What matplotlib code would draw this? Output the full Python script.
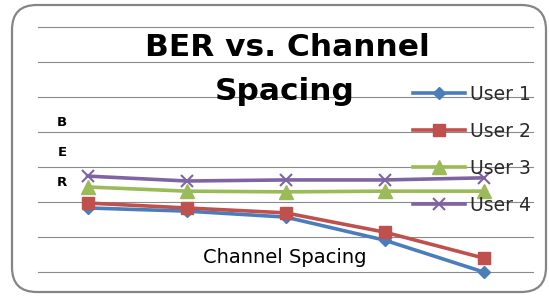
import matplotlib
matplotlib.use("Agg")
import matplotlib.pyplot as plt
from matplotlib.patches import FancyBboxPatch

categories = ["1", "2", "3", "4", "5"]
user1 = [1.83, 1.74, 1.57, 0.91, 0.0]
user2 = [1.97, 1.83, 1.69, 1.14, 0.40]
user3 = [2.43, 2.31, 2.29, 2.31, 2.31]
user4 = [2.74, 2.60, 2.63, 2.63, 2.69]
series_names = ["User 1", "User 2", "User 3", "User 4"]
yticks = [0, 1, 2, 3, 4, 5, 6, 7]

plt.rcParams['font.family'] = ['DejaVu Sans']

W, H = 549, 296
fig = plt.figure(figsize=(W/100, H/100), dpi=100)
fig.patch.set_facecolor("white")

# rounded border
border = FancyBboxPatch((12/W, 1-292/H), (546-12)/W, (292-5)/H,
                        boxstyle="round,pad=0,rounding_size=0.045",
                        transform=fig.transFigure, facecolor="none",
                        edgecolor="#858585", linewidth=1.6, mutation_aspect=W/H)
fig.patches.append(border)

ax = fig.add_axes([38/W, 1-272/H, (533-38)/W, (272-27)/H])
ax.set_facecolor("none")
x = list(range(len(categories)))
ax.set_xlim(-0.5, len(categories)-0.5)
ax.set_ylim(0, 7)
ax.set_yticks(yticks)
ax.yaxis.grid(True, color="#8a8a8a", linewidth=0.8)
for gl in ax.get_ygridlines():
    gl.set_clip_on(False)
ax.set_axisbelow(True)
ax.tick_params(left=False, bottom=False, labelleft=False, labelbottom=False)
for s in ax.spines.values():
    s.set_visible(False)

styles = [
    dict(color="#4A7EBB", marker="D", markersize=6.5),
    dict(color="#C0504D", marker="s", markersize=9),
    dict(color="#9BBB59", marker="^", markersize=10),
    dict(color="#8064A2", marker="x", markersize=9, markeredgewidth=1.5),
]
for data, name, st in zip([user1, user2, user3, user4], series_names, styles):
    ax.plot(x, data, linewidth=2.6, label=name, clip_on=False, **st)

leg = ax.legend(loc="upper left", bbox_to_anchor=(413/W, 1-85/H),
                bbox_transform=fig.transFigure, frameon=False, fontsize=13.5,
                handlelength=2.77, handletextpad=0.25, labelspacing=0.96,
                borderaxespad=0, borderpad=0)
for t in leg.get_texts():
    t.set_color("#2a2a2a")

fig.text(287/W, 1-56/H, "BER vs. Channel", ha="center", va="baseline",
         fontsize=22.5, fontweight="bold")
fig.text(285/W, 1-100/H, "Spacing", ha="center", va="baseline",
         fontsize=22.5, fontweight="bold")

for letter, yy in zip(["B", "E", "R"], [122, 152, 182]):
    fig.text(62/W, 1-yy/H, letter, ha="center", va="center",
             fontsize=9.5, fontweight="bold")

fig.text(285/W, 1-263/H, "Channel Spacing", ha="center", va="baseline",
         fontsize=14)

fig.savefig("out.png", dpi=100, facecolor="white")
